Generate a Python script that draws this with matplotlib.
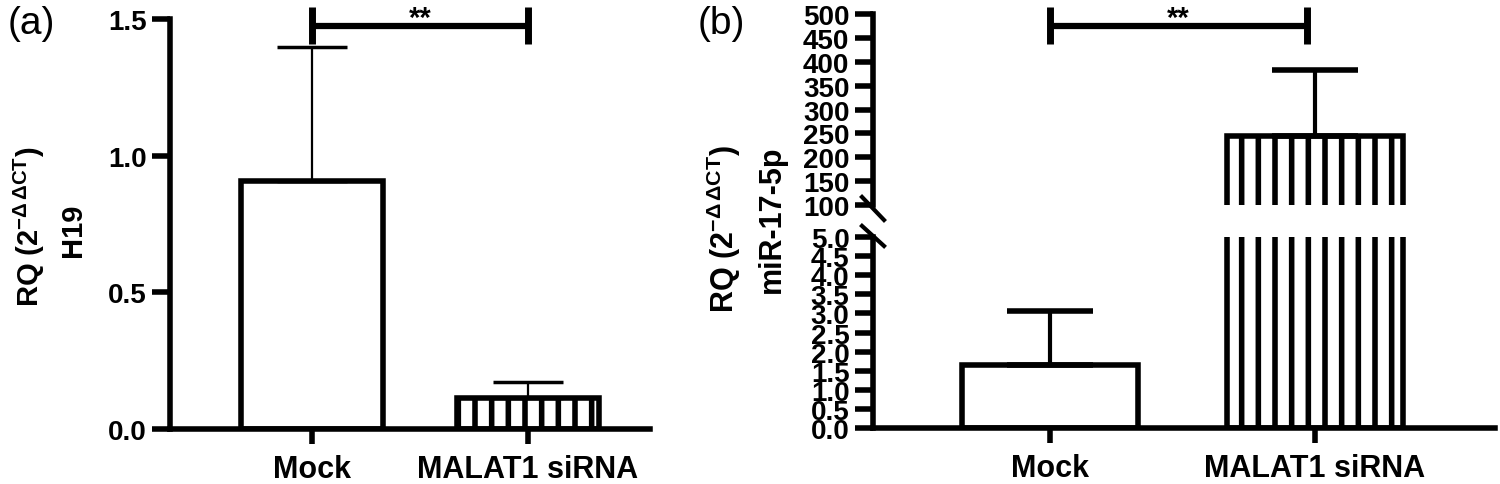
import numpy as np
import matplotlib
matplotlib.use('Agg')
import matplotlib.pyplot as plt

groups = ['Mock', 'MALAT1 siRNA']

# panel (a): H19
h19_mean = [0.907, 0.113]
h19_sd = [0.49, 0.06]

# panel (b): miR-17-5p
mir_mean = [1.65, 245.0]
mir_sd = [1.41, 138.0]

lo_ticks = np.arange(0, 5.01, 0.5)
hi_ticks = np.arange(100, 501, 50)

plt.rcParams['font.family'] = ['Liberation Sans', 'DejaVu Sans']
plt.rcParams['font.weight'] = 'bold'
plt.rcParams['mathtext.fontset'] = 'custom'
plt.rcParams['mathtext.rm'] = 'Liberation Sans:bold'
plt.rcParams['mathtext.it'] = 'Liberation Sans:bold'
plt.rcParams['mathtext.bf'] = 'Liberation Sans:bold'
plt.rcParams['mathtext.sf'] = 'Liberation Sans:bold'
plt.rcParams['hatch.linewidth'] = 4.0

W, H = 1500, 485
fig = plt.figure(figsize=(W / 100, H / 100), dpi=100)


def box(x0, y0, x1, y1):
    return [x0 / W, 1 - y1 / H, (x1 - x0) / W, (y1 - y0) / H]


def style(ax, bottom=True):
    for s in ['top', 'right']:
        ax.spines[s].set_visible(False)
    ax.spines['left'].set_linewidth(4)
    ax.spines['bottom'].set_linewidth(4)
    ax.tick_params(axis='y', length=13, width=4, labelsize=20, pad=4)
    if bottom:
        ax.tick_params(axis='x', length=11, width=4, labelsize=22, pad=7)
    else:
        ax.spines['bottom'].set_visible(False)
        ax.tick_params(axis='x', length=0, labelbottom=False)


def bars(ax, means, width):
    x = np.arange(len(means))
    ax.bar(x[0], means[0], width, color='white', edgecolor='black', linewidth=4)
    ax.bar(x[1], means[1], width, color='white', edgecolor='black', linewidth=4,
           hatch='|')


def sigbar(ax, y, y0, y1, x0=0, x1=1):
    ax.plot([x0, x1], [y, y], color='black', lw=4.5, clip_on=False,
            solid_capstyle='butt')
    for xx in (x0, x1):
        ax.plot([xx, xx], [y0, y1], color='black', lw=5, clip_on=False,
                solid_capstyle='butt')
    ax.text((x0 + x1) / 2, y, '**', ha='center', va='baseline', fontsize=21,
            fontweight='bold', clip_on=False)


# ---- panel (a)
ax1 = fig.add_axes(box(170, 20, 650, 430))
bars(ax1, h19_mean, 0.66)
ax1.errorbar([0, 1], h19_mean, yerr=[[0, 0], h19_sd], fmt='none',
             ecolor='black', elinewidth=1.6, capsize=25, capthick=2.5)
ax1.set_xlim(-0.657, 1.565)
ax1.set_ylim(0, 1.5)
ax1.set_yticks([0, 0.5, 1.0, 1.5])
ax1.set_yticklabels(['0.0', '0.5', '1.0', '1.5'])
ax1.set_xticks([0, 1])
ax1.set_xticklabels(groups)
style(ax1)
sigbar(ax1, 1.474, 1.544, 1.409)

# ---- panel (b)
x_lim_b = (-0.668, 1.679)
ax_hi = fig.add_axes(box(873, 15, 1495, 206))
ax_lo = fig.add_axes(box(873, 238, 1495, 429))
for ax in (ax_hi, ax_lo):
    bars(ax, mir_mean, 0.665)
    ax.errorbar([0, 1], mir_mean, yerr=[[0, 0], mir_sd], fmt='none',
                ecolor='black', elinewidth=3, capsize=31, capthick=4)
    ax.set_xlim(*x_lim_b)

ax_hi.set_ylim(100, 500)
ax_hi.set_yticks(hi_ticks)
ax_hi.set_yticklabels([f'{v:.0f}' for v in hi_ticks])
style(ax_hi, bottom=False)

ax_lo.set_ylim(0, 5)
ax_lo.set_yticks(lo_ticks)
ax_lo.set_yticklabels([f'{v:.1f}' for v in lo_ticks])
ax_lo.set_xticks([0, 1])
ax_lo.set_xticklabels(groups)
style(ax_lo)

sigbar(ax_hi, 475, 515, 437, 0, 0.97)

# axis break marks
ax_hi.plot([-0.0177, 0.0177], [0.042, -0.0785], transform=ax_hi.transAxes,
           color='black', lw=3, clip_on=False)
ax_lo.plot([-0.0177, 0.0177], [1.058, 0.953], transform=ax_lo.transAxes,
           color='black', lw=3, clip_on=False)

# y labels
def ylab(x, y, s, size=22):
    fig.text(x / W, 1 - y / H, s, rotation=90, rotation_mode='anchor',
             ha='center', va='baseline', fontsize=size, fontweight='bold')

ylab(39, 227, r'RQ (2$^{-\Delta\,\Delta CT}$)', 21)
ylab(81, 230, 'H19', 21)
ylab(734, 229, r'RQ (2$^{-\Delta\,\Delta CT}$)')
ylab(780, 219, 'miR-17-5p')

# panel letters
fig.text(8 / W, 1 - 6 / H, '(a)', ha='left', va='top', fontsize=28,
         fontweight='normal')
fig.text(698 / W, 1 - 6 / H, '(b)', ha='left', va='top', fontsize=28,
         fontweight='normal')

fig.savefig('out.png', dpi=100)
